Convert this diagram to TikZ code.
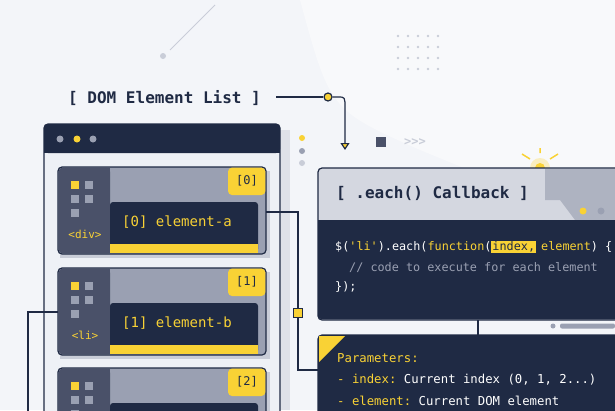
\documentclass[tikz,border=0pt]{standalone}
\usepackage{fontspec}
\setmonofont{DejaVu Sans Mono}
\usetikzlibrary{arrows.meta,positioning,calc}
\definecolor{navy}{HTML}{1F2A44}
\definecolor{slate}{HTML}{4A5169}
\definecolor{steel}{HTML}{9AA0B2}
\definecolor{pale}{HTML}{EEF1F6}
\definecolor{gold}{HTML}{F9D235}
\definecolor{mist}{HTML}{C9CDD8}
\tikzset{
  wire/.style={draw=navy, line width=1.2pt},
  card/.style={draw=navy, line width=1.2pt, rounded corners=4pt},
  mono/.style={font=\ttfamily, inner sep=0pt, anchor=west},
  tile/.style={minimum size=8pt, inner sep=0pt},
}
\begin{document}
\begin{tikzpicture}[x=1pt, y=-1pt]
  \useasboundingbox (0,0) rectangle (615,410);
  \clip (0,0) rectangle (615,410);
  % background
  \fill[pale!70!white] (0,0) rectangle (615,410);
  \fill[white!60!pale] (300,0) -- (615,0) -- (615,230) -- (420,150) .. controls (330,110) .. (300,0);
  \foreach \i in {0,...,4}
    \foreach \j in {0,...,3}
      \fill[mist] (398+\i*10, 36+\j*11) circle (1.4pt);
  \draw[mist, line width=1pt] (170,50) -- (215,5);
  \fill[mist] (163,56) circle (3pt);

  % title and arrow
  \node[mono, font=\ttfamily\bfseries\fontsize{16}{19}\selectfont, text=navy] (title) at (68,98) {[ DOM Element List ]};
  \node[circle, draw=navy, fill=gold, line width=1.2pt, minimum size=8pt, inner sep=0pt] (knot) at (328,97) {};
  \coordinate (tip) at (345,150);
  \draw[wire] (276,97) -- (knot);
  \draw[wire, -{Triangle[open, fill=gold, length=7pt, width=9pt]}] (knot.east) -- (338,97) .. controls (345,97) .. (345,108) -- (tip);
  \fill[slate] (376,137) rectangle (386,147);
  \node[mono, text=mist, font=\ttfamily\bfseries\large] (chev) at (404,142) {>>>};

  % list window
  \fill[mist!60] (50,130) rectangle (290,410);
  \draw[card, fill=pale] (44,124) rectangle (280,415);
  \fill[navy, rounded corners=4pt] (44,124) rectangle (280,153);
  \fill[navy] (44,145) rectangle (280,153);
  \fill[steel] (60,139) circle (3.5pt);
  \fill[gold] (77,139) circle (3.5pt);
  \fill[steel] (93,139) circle (3.5pt);
  \fill[gold] (302,138) circle (3pt);
  \fill[steel] (302,151) circle (3pt);
  \fill[mist] (302,163) circle (3pt);

  % element cards
  \foreach \y/\n/\tag in {167/0/div, 268/1/li, 368/2/}{
    \fill[mist] (60,\y+4) rectangle (270,\y+91);
    \draw[card, fill=steel] (58,\y) rectangle (266,\y+87);
    \fill[slate, rounded corners=4pt] (58.6,\y+0.6) rectangle (110,\y+86.4);
    \fill[slate] (100,\y+0.6) rectangle (110,\y+86.4);
    \fill[navy, rounded corners=3pt] (110,\y+35) rectangle (258,\y+85);
    \fill[gold] (110,\y+77) rectangle (258,\y+85.5);
    \fill[gold, rounded corners=4pt] (228,\y+0.6) rectangle (265.4,\y+28);
    \node[mono, anchor=center, font=\ttfamily\fontsize{12}{14}\selectfont, text=navy] at (247,\y+14) {[\n]};
    \node[tile, fill=gold] at (75,\y+18) {};
    \node[tile, fill=steel] at (75+14,\y+18) {};
    \node[tile, fill=steel] at (75,\y+32) {};
    \node[tile, fill=steel] at (75+14,\y+32) {};
    \node[tile, fill=steel] at (75,\y+46) {};
    \ifnum\n<2
      \node[mono, anchor=center, text=gold, font=\ttfamily\fontsize{11}{13}\selectfont] at (85,\y+67) {<\tag>};
      \node[mono, text=gold, font=\ttfamily\fontsize{14}{16}\selectfont] (item\n) at (122,\y+55) {[\n] element-\ifcase\n a\or b\fi};
    \fi
  }

  % connectors
  \coordinate (c0) at (266,212);
  \coordinate (c1) at (58,312);
  \draw[wire] (c0) -- (298,212) -- (298,370) -- (320,370);
  \node[draw=navy, fill=gold, line width=1.2pt, minimum size=9pt, inner sep=0pt] (joint) at (298,313) {};
  \draw[wire] (c1) -- (28,312) -- (28,412);

  % callback window
  \fill[gold!60, opacity=0.5] (540,168) circle (10pt);
  \fill[gold] (540,168) circle (5pt);
  \draw[gold, line width=1.5pt] (522,154) -- (530,159) (558,154) -- (550,159) (540,148) -- (540,153);
  \draw[card, fill=mist!80] (318,168) rectangle (625,320);
  \fill[steel!80] (545,169) -- (625,169) -- (625,220) -- (575,220) -- (560,200) -- (545,200) -- cycle;
  \fill[navy, rounded corners=4pt] (318,220) rectangle (625,319.4);
  \fill[navy] (318,220) rectangle (625,230);
  \fill[gold] (583,211) circle (3.5pt);
  \fill[steel] (601,211) circle (3.5pt);
  \node[mono, text=navy, font=\ttfamily\bfseries\fontsize{16}{19}\selectfont] (head) at (336,193) {[ .each() Callback ]};
  \node[mono, font=\ttfamily\fontsize{11.8}{13}\selectfont, text=white] (code1) at (335,247)
    {\$(\textcolor{gold}{'li'}).each(\textcolor{gold}{function}(\setlength{\fboxsep}{1pt}\colorbox{gold}{\textcolor{navy}{index,}}\kern-2pt\ \textcolor{gold}{element}) \{};
  \node[mono, font=\ttfamily\fontsize{11.8}{13}\selectfont, text=steel] (code2) at (349,268) {// code to execute for each element};
  \node[mono, font=\ttfamily\fontsize{11.8}{13}\selectfont, text=white] (code3) at (335,287) {\});};

  % parameters panel
  \fill[steel] (553,326) circle (2.5pt);
  \fill[steel, rounded corners=2pt] (560,323.5) rectangle (615,328.5);
  \coordinate (down) at (478,320);
  \draw[card, fill=navy] (318,335) rectangle (625,420);
  \draw[wire] (down) -- (478,335);
  \fill[gold] (319,336) -- (345,336) -- (319,362) -- cycle;
  \node[mono, text=gold, font=\ttfamily\fontsize{12.3}{14}\selectfont] (par) at (337,358) {Parameters:};
  \node[mono, text=white, font=\ttfamily\fontsize{12.3}{14}\selectfont] (par1) at (337,380) {\textcolor{gold}{- index:} Current index (0, 1, 2...)};
  \node[mono, text=white, font=\ttfamily\fontsize{12.3}{14}\selectfont] (par2) at (337,401) {\textcolor{gold}{- element:} Current DOM element};
\end{tikzpicture}
\end{document}
